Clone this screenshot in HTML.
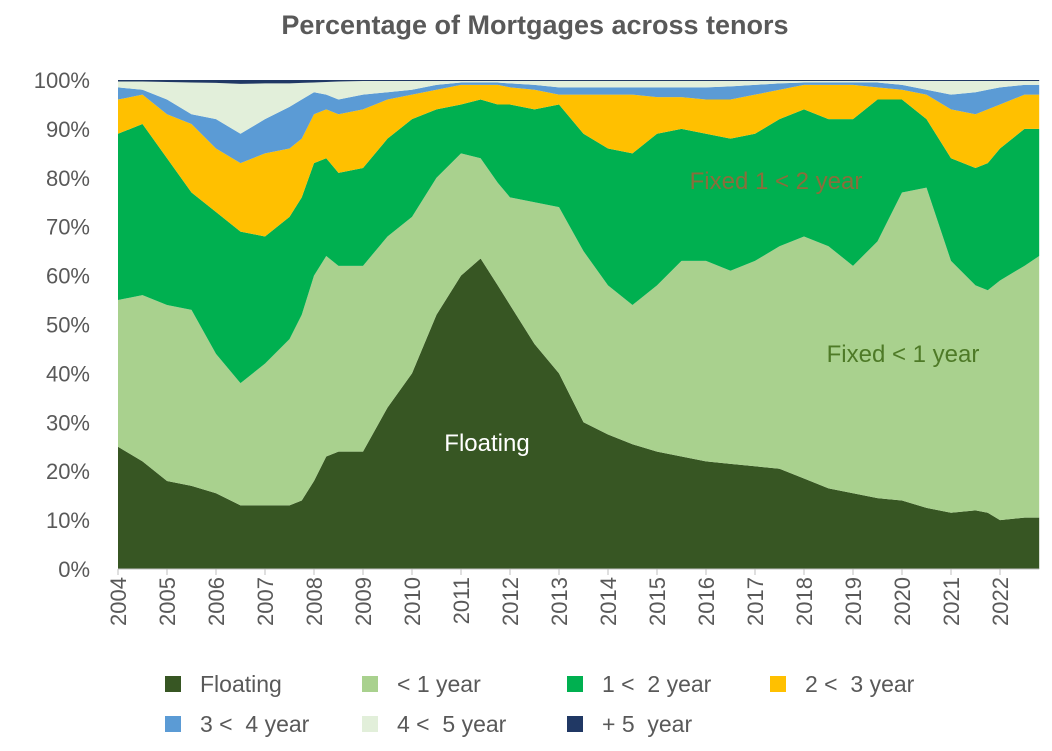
<!DOCTYPE html>
<html><head><meta charset="utf-8"><style>
body{margin:0;background:#fff;}
svg text{font-family:"Liberation Sans",sans-serif;}
</style></head><body>
<svg id="chart" width="1052" height="746">
<text x="535" y="34" text-anchor="middle" font-size="27" font-weight="bold" fill="#595959">Percentage of Mortgages across tenors</text>
<g id="areas"></g><g id="axes"></g>
<text x="487" y="451" text-anchor="middle" font-size="24" fill="#ffffff">Floating</text>
<text x="903" y="362" text-anchor="middle" font-size="24" fill="#4e7a27">Fixed &lt; 1 year</text>
<text x="776" y="189" text-anchor="middle" font-size="24" fill="#8a6d3b">Fixed 1 &lt; 2 year</text>
<g id="legend"></g>
</svg>
<script>
// time points (year fraction)
const times=[2004,2004.5,2005,2005.5,2006,2006.5,2007,2007.5,2007.75,2008,2008.25,2008.5,2009,2009.5,2010,2010.5,2011,2011.4,2011.75,2012,2012.5,2013,2013.5,2014,2014.5,2015,2015.5,2016,2016.5,2017,2017.5,2018,2018.5,2019,2019.5,2020,2020.5,2021,2021.5,2021.75,2022,2022.5,2022.8];
// cumulative shares (top of each band, %)
const floatingTop=[25,22,18,17,15.5,13,13,13,14,18,23,24,24,33,40,52,60,63.5,58,54,46,40,30,27.5,25.5,24,23,22,21.5,21,20.5,18.5,16.5,15.5,14.5,14,12.5,11.5,12,11.5,10,10.5,10.5];
const under1Top=[55,56,54,53,44,38,42,47,52,60,64,62,62,68,72,80,85,84,79,76,75,74,65,58,54,58,63,63,61,63,66,68,66,62,67,77,78,63,58,57,59,62,64];
const y1to2Top=[89,91,84,77,73,69,68,72,76,83,84,81,82,88,92,94,95,96,95,95,94,95,89,86,85,89,90,89,88,89,92,94,92,92,96,96,92,84,82,83,86,90,90];
const y2to3Top=[96,97,93,91,86,83,85,86,88,93,94,93,94,96,97,98,99,99,99,98.5,98,97,97,97,97,96.5,96.5,96,96,97,98,99,99,99,98.5,98,97,94,93,94,95,97,97];
const y3to4Top=[98.5,98,96,93,92,89,92,94.5,96,97.5,97,96,97,97.5,98,99,99.5,99.5,99.5,99.3,99,98.5,98.5,98.5,98.5,98.5,98.5,98.5,98.7,99,99.3,99.5,99.5,99.5,99.5,99,98,97,97.5,98,98.5,99,99];
const y4to5Top=[99.7,99.7,99.6,99.5,99.4,99.2,99.3,99.3,99.4,99.5,99.6,99.7,99.8,99.8,99.8,99.8,99.8,99.8,99.8,99.8,99.8,99.8,99.8,99.8,99.8,99.8,99.8,99.8,99.8,99.8,99.8,99.8,99.8,99.8,99.8,99.8,99.8,99.8,99.8,99.8,99.8,99.8,99.8];
const plus5Top=times.map(()=>100);
const seriesNames=["Floating","< 1 year","1 <  2 year","2 <  3 year","3 <  4 year","4 <  5 year","+ 5  year"];
const seriesColors=["#375623","#a9d18e","#00b050","#ffc000","#5b9bd5","#e2efda","#203864"];
const yTicks=[0,10,20,30,40,50,60,70,80,90,100];
const xYears=[2004,2005,2006,2007,2008,2009,2010,2011,2012,2013,2014,2015,2016,2017,2018,2019,2020,2021,2022];

const NS="http://www.w3.org/2000/svg";
const X0=118,XPY=49,Y0=569,YPP=4.89;
const xs=t=>X0+(t-2004)*XPY;
const ys=v=>Y0-v*YPP;
function mk(tag,a,p){const e=document.createElementNS(NS,tag);for(const k in a)e.setAttribute(k,a[k]);p.appendChild(e);return e;}
const tops=[floatingTop,under1Top,y1to2Top,y2to3Top,y3to4Top,y4to5Top,plus5Top];
const areas=document.getElementById('areas');
tops.forEach((top,i)=>{
  const bot=i===0?times.map(()=>0):tops[i-1];
  let d="M"+times.map((t,j)=>xs(t)+","+ys(top[j])).join("L");
  for(let j=times.length-1;j>=0;j--)d+="L"+xs(times[j])+","+ys(bot[j]);
  const p=mk('path',{d:d+"Z",fill:seriesColors[i]},areas);
  
  
});
const ax=document.getElementById('axes');
yTicks.forEach(v=>{
  const t=mk('text',{x:90,y:ys(v)+8,'text-anchor':'end','font-size':22,fill:'#595959'},ax);
  t.textContent=v+'%';
  
  
});
const axl=mk('line',{x1:X0,x2:xs(2022.8),y1:Y0,y2:Y0,stroke:'#bfbfbf','stroke-width':1},ax);


xYears.forEach(yr=>{
  const x=xs(yr);
  const tk=mk('line',{x1:x,x2:x,y1:Y0,y2:Y0+6,stroke:'#bfbfbf'},ax);
  
  
  const t=mk('text',{x:0,y:0,'text-anchor':'end','font-size':22,fill:'#595959',transform:`translate(${x+8},${Y0+8}) rotate(-90)`},ax);
  t.textContent=yr;
  
  
});
const lg=document.getElementById('legend');
const lpos=[[165,684],[362,684],[567,684],[770,684],[165,724],[362,724],[567,724]];
seriesNames.forEach((n,i)=>{
  const [x,y]=lpos[i];
  const r=mk('rect',{x:x,y:y-8,width:16,height:16,fill:seriesColors[i]},lg);
  
  
  const t=mk('text',{x:x+35,y:y+8,'font-size':23,fill:'#595959'},lg);
  t.style.whiteSpace='pre';
  t.textContent=n;
  
  
});
</script>
</body></html>
